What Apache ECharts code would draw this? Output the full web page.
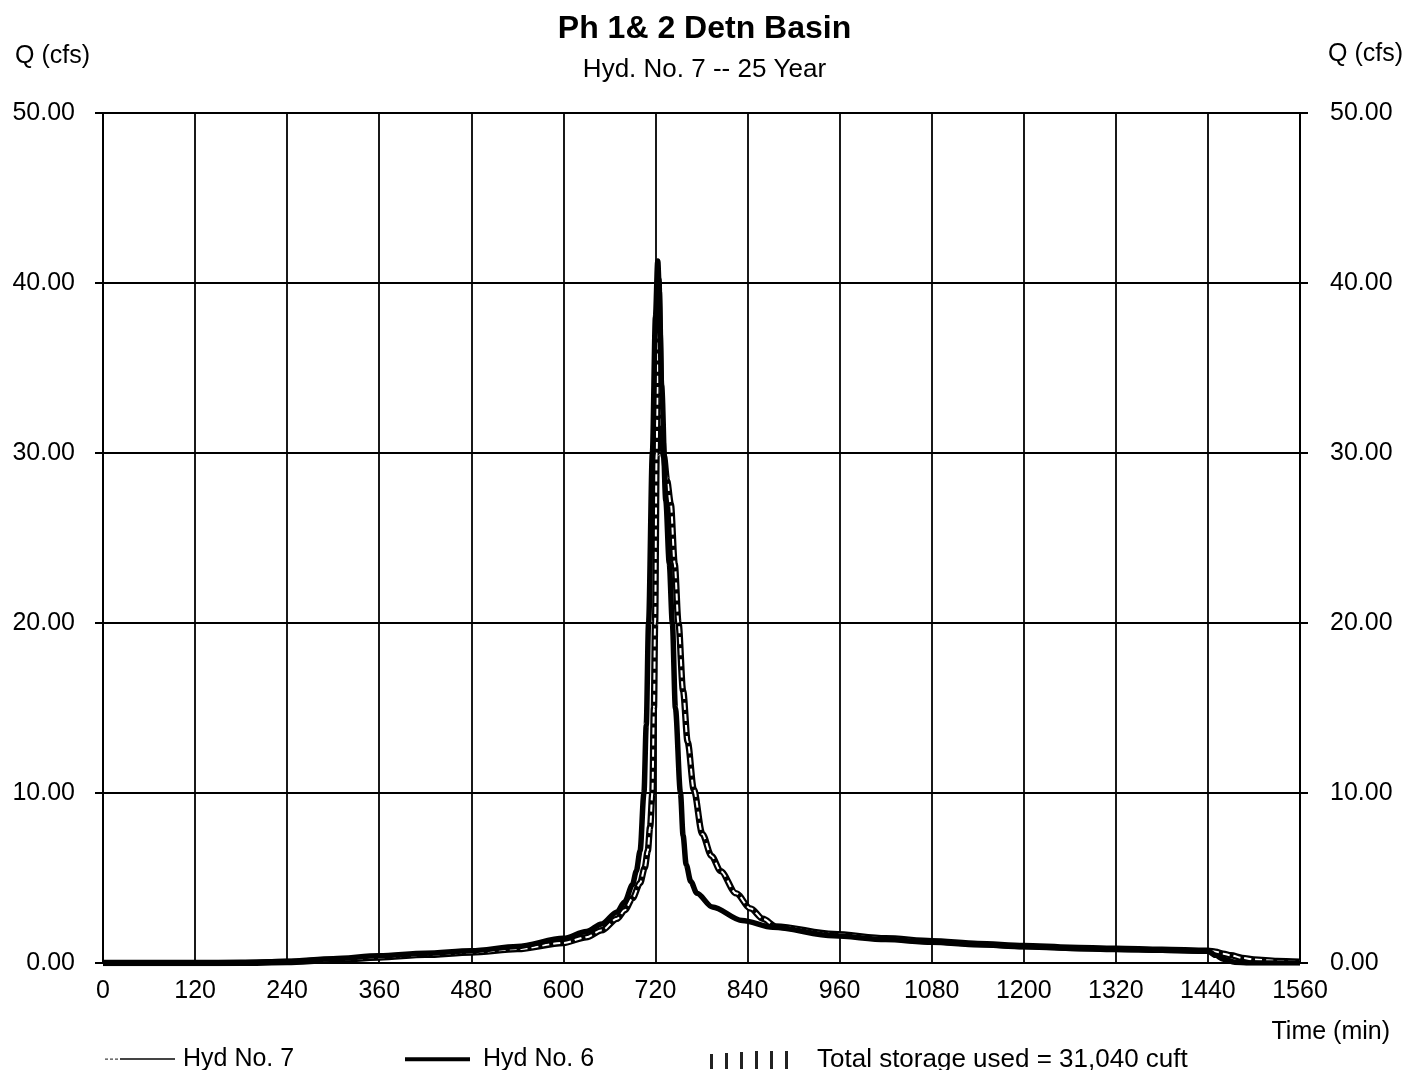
<!DOCTYPE html>
<html>
<head>
<meta charset="utf-8">
<script src="https://cdn.jsdelivr.net/npm/echarts@6/dist/echarts.min.js"></script>
<style>
  html, body { margin: 0; padding: 0; background: #fff; }
  #chart { width: 1409px; height: 1070px; }
</style>
</head>
<body>
<div id="chart"></div>
<script>
const xTicks = [0, 120, 240, 360, 480, 600, 720, 840, 960, 1080, 1200, 1320, 1440, 1560];
const yTicks = [0, 10, 20, 30, 40, 50];

// Hyd No. 6 (inflow) — time (min) and Q (cfs)
const hyd6Time = [0,120,180,240,300,360,420,480,540,600,
  630,650,670,680,690,695,700,705,708,711,
  716,720,723,725,728,733.5,738,742,746,752.6,
  756,760,766,774,794,833,873,952,1020,1080,
  1140,1200,1260,1320,1380,1440,1450,1460,1475,1490,
  1560];
const hyd6Flow = [0,0,0.02,0.1,0.25,0.42,0.58,0.72,0.97,1.45,
  1.85,2.3,3.0,3.6,4.6,5.4,6.6,10,14,20,
  30,38,41.3,39.5,34,27.2,23.5,20,15,10,
  7.5,5.8,4.8,4.1,3.3,2.5,2.1,1.6,1.38,1.22,
  1.07,0.95,0.86,0.8,0.75,0.7,0.45,0.22,0.05,0,
  0];

// Hyd No. 7 (routed outflow) — time (min) and Q (cfs)
const hyd7Time = [0,120,180,240,300,360,420,480,540,600,
  630,650,670,680,690,700,706,710,713,716,
  718,719.5,721.5,724,725.5,728,731,735,740,745,
  750,756,762,770,781,793,805,825,844,860,
  877,952,1020,1080,1140,1200,1260,1320,1380,1440,
  1450,1460,1470,1485,1500,1530,1560];
const hyd7Flow = [0,0,0.01,0.06,0.18,0.33,0.48,0.62,0.82,1.18,
  1.52,1.92,2.6,3.1,3.8,4.7,5.6,6.6,8,10,
  15,20,30,40.2,37,31.5,29.8,28.4,27,23.5,
  20,16,13,10.2,7.6,6.3,5.4,4.1,3.2,2.6,
  2.15,1.7,1.45,1.28,1.12,1.0,0.9,0.84,0.78,0.72,
  0.66,0.55,0.45,0.3,0.2,0.12,0.08];

const titleText = 'Ph 1& 2 Detn Basin';
const subtitleText = 'Hyd. No. 7 -- 25 Year';
const storageLabel = 'Total storage used = 31,040 cuft';

// ---- Build chart ----
const pairs = (t, q) => t.map((v, i) => [v, q[i]]);
const FONT = "'Liberation Sans', Arial, sans-serif";
const chart = echarts.init(document.getElementById('chart'), null, { renderer: 'canvas' });

const axisLineStyle = { color: '#000', width: 2 };
const gridLineStyle = { color: '#000', width: 1.8 };
const labelStyle = { color: '#000', fontSize: 25, fontFamily: FONT };

// legend icon shapes (bbox padded with a tiny point so icon-to-text gap matches)
const iconHyd7 = 'path://M0,1.5h3v1.2h-3zM5,1.5h3v1.2h-3zM10,1.5h3v1.2h-3zM15,1h55v2h-55zM72.9,3.9h0.1v0.1h-0.1z';
const iconHyd6 = 'path://M0,0.5h65v4h-65zM72.9,4.9h0.1v0.1h-0.1z';
const iconStorage = 'path://M0,3h3v15h-3zM15,2h3v16h-3zM30,1h3v17h-3zM45,0h3v18h-3zM60,0h3v18h-3zM75,0h3v18h-3zM101.9,17.9h0.1v0.1h-0.1z';

const option = {
  animation: false,
  backgroundColor: '#fff',
  textStyle: { fontFamily: FONT },
  title: {
    text: titleText,
    subtext: subtitleText,
    left: 'center',
    top: 8,
    itemGap: 12,
    textStyle: { fontSize: 32, fontWeight: 'bold', color: '#000', fontFamily: FONT },
    subtextStyle: { fontSize: 26, color: '#000', fontFamily: FONT }
  },
  grid: { left: 103, right: 109, top: 113, bottom: 107, containLabel: false },
  xAxis: {
    type: 'value',
    min: 0, max: 1560, interval: 120,
    axisLine: { show: true, lineStyle: axisLineStyle },
    axisTick: { show: false },
    splitLine: { show: true, lineStyle: gridLineStyle },
    axisLabel: { margin: 16, ...labelStyle, formatter: v => String(v), customValues: xTicks }
  },
  yAxis: [
    {
      type: 'value', position: 'left',
      min: 0, max: 50, interval: 10,
      name: 'Q (cfs)', nameLocation: 'end', nameGap: 44,
      nameTextStyle: { ...labelStyle, align: 'right', padding: [0, 13, 0, 0] },
      axisLine: { show: true, lineStyle: axisLineStyle },
      axisTick: { show: true, inside: false, length: 8, lineStyle: axisLineStyle },
      splitLine: { show: true, lineStyle: gridLineStyle },
      axisLabel: { margin: 28, ...labelStyle, formatter: v => v.toFixed(2) }
    },
    {
      type: 'value', position: 'right',
      min: 0, max: 50, interval: 10,
      name: 'Q (cfs)', nameLocation: 'end', nameGap: 46,
      nameTextStyle: { ...labelStyle, align: 'left', padding: [0, 0, 0, 28] },
      axisLine: { show: true, lineStyle: axisLineStyle },
      axisTick: { show: true, inside: false, length: 8, lineStyle: axisLineStyle },
      splitLine: { show: false },
      axisLabel: { margin: 30, ...labelStyle, formatter: v => v.toFixed(2) }
    }
  ],
  legend: [
    {
      left: 105, top: 1047, padding: 0, itemWidth: 73, itemHeight: 20,
      textStyle: { ...labelStyle },
      selectedMode: false,
      data: [{ name: 'Hyd No. 7', icon: iconHyd7, itemStyle: { color: '#444' } }]
    },
    {
      left: 405, top: 1047, padding: 0, itemWidth: 73, itemHeight: 20,
      textStyle: { ...labelStyle },
      selectedMode: false,
      data: [{ name: 'Hyd No. 6', icon: iconHyd6, itemStyle: { color: '#000' } }]
    },
    {
      left: 710, top: 1047, padding: 0, itemWidth: 102, itemHeight: 18,
      textStyle: { ...labelStyle, fontSize: 26 },
      selectedMode: false,
      data: [{ name: storageLabel, icon: iconStorage, itemStyle: { color: '#222' } }]
    }
  ],
  graphic: [
    {
      type: 'text', right: 19, top: 1020,
      style: { text: 'Time (min)', fill: '#000', font: "25px 'Liberation Sans', Arial, sans-serif" }
    }
  ],
  series: [
    {
      name: 'Hyd No. 7', type: 'line', yAxisIndex: 0,
      data: pairs(hyd7Time, hyd7Flow),
      symbol: 'none', smooth: 0.3, smoothMonotone: 'x',
      lineStyle: { color: '#000', width: 6.5 }, z: 3
    },
    {
      name: 'Hyd No. 7 core', type: 'line', yAxisIndex: 0,
      data: pairs(hyd7Time, hyd7Flow),
      symbol: 'none', smooth: 0.3, smoothMonotone: 'x',
      lineStyle: { color: '#fff', width: 2, type: [7, 4] }, z: 4, silent: true
    },
    {
      name: 'Hyd No. 6', type: 'line', yAxisIndex: 0,
      data: pairs(hyd6Time, hyd6Flow),
      symbol: 'none', smooth: 0.3, smoothMonotone: 'x',
      lineStyle: { color: '#000', width: 5.5 }, z: 5
    },
    {
      name: storageLabel, type: 'line', yAxisIndex: 0,
      data: [], symbol: 'none',
      itemStyle: { color: '#222' }, lineStyle: { color: '#222' }
    }
  ]
};
chart.setOption(option);
</script>
</body>
</html>
